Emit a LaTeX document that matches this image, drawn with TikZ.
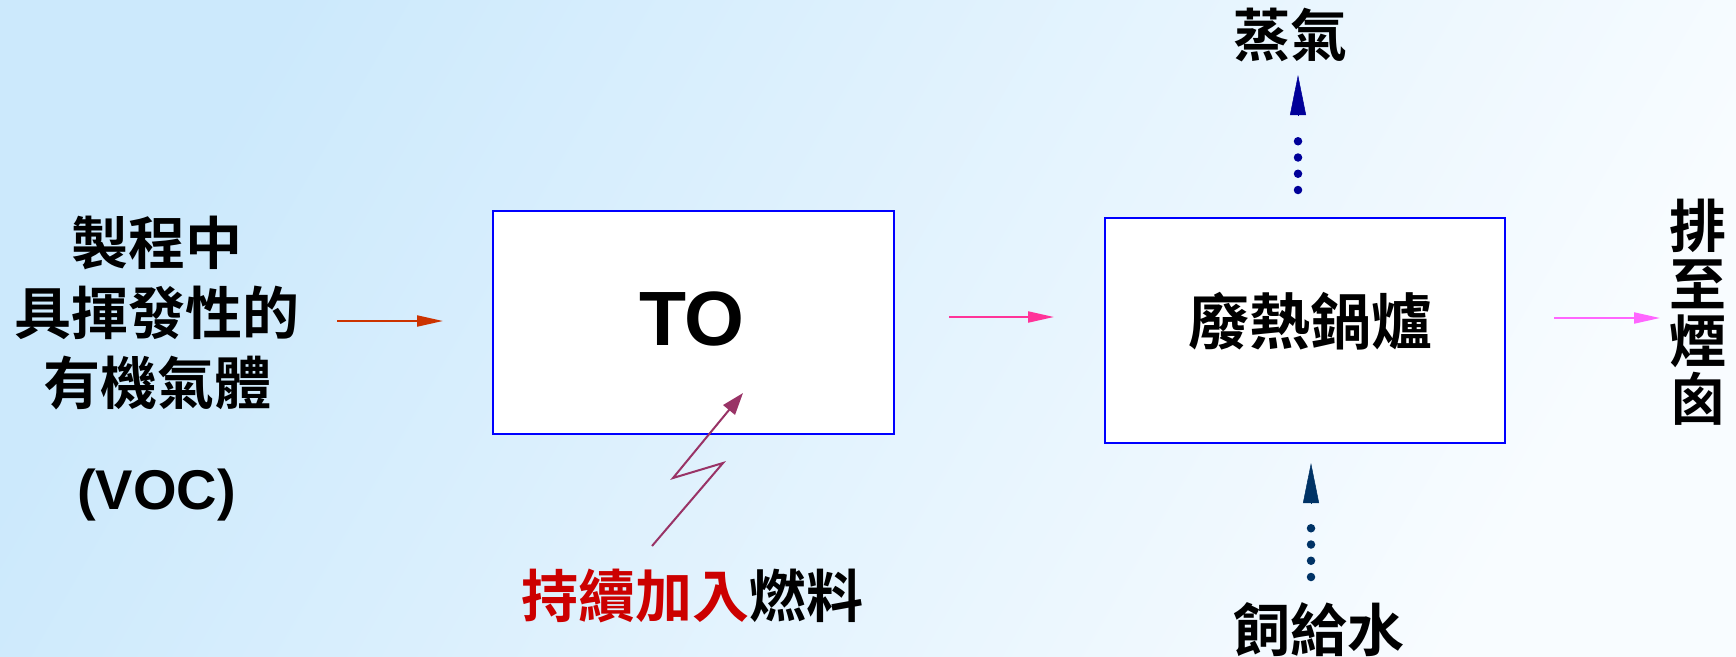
\documentclass[tikz,border=0pt]{standalone}
\usepackage{fontspec}
\setmainfont{Liberation Sans}
\newfontfamily\cjk{Noto Sans CJK TC Bold}
\usetikzlibrary{arrows.meta}
\definecolor{bgL}{HTML}{CCE9FC}
\definecolor{bgR}{HTML}{F8FCFF}
\definecolor{boxblue}{HTML}{0000FF}
\definecolor{arrRed}{HTML}{CC3300}
\definecolor{arrPink}{HTML}{FF3399}
\definecolor{arrMag}{HTML}{FF66FF}
\definecolor{fuelPurple}{HTML}{993366}
\definecolor{steamBlue}{HTML}{000099}
\definecolor{feedBlue}{HTML}{003366}
\definecolor{fuelRed}{HTML}{CC0000}
\tikzset{
  procbox/.style={draw=boxblue, line width=2pt, fill=white, inner sep=0pt},
  cjklabel/.style={inner sep=0pt, font=\cjk\fontsize{57}{70}\selectfont, align=center},
  flowarrow/.style={line width=2pt, -{Triangle[length=26pt,width=11pt]}},
  dotline/.style={line width=8.5pt, line cap=round, dash pattern=on 0pt off 16.25pt},
  dottip/.style={line width=0.5pt, -{Triangle[length=40pt,width=16pt]}},
}
\begin{document}
\begin{tikzpicture}[x=1pt,y=-1pt]
\shade[left color=bgL, right color=bgR, shading angle=60] (0,0) rectangle (1736,656);
\useasboundingbox (0,0) rectangle (1736,656);

% boxes
\node[procbox, minimum width=401pt, minimum height=223pt] (to) at (693.5,322.5) {};
\node[inner sep=0pt, font=\bfseries\fontsize{77}{80}\selectfont] (totext) at (692,319) {TO};
\node[procbox, minimum width=400pt, minimum height=225pt] (hrsg) at (1305,330.5) {};
\node[cjklabel, font=\cjk\fontsize{61}{70}\selectfont] (hrsgtext) at (1310,321) {廢熱鍋爐};

% labels
\node[cjklabel] (voc) at (157,313) {製程中\\具揮發性的\\有機氣體};
\node[inner sep=0pt, font=\bfseries\fontsize{56}{60}\selectfont] (voctag) at (156.5,495) {(VOC)};
\node[cjklabel] (steam) at (1290,35) {蒸氣};
\node[cjklabel] (feed) at (1319,630) {飼給水};
\node[cjklabel] (fuel) at (692.5,596) {\textcolor{fuelRed}{持續加入}燃料};
\node[cjklabel, font=\cjk\fontsize{57}{57.5}\selectfont] (stack) at (1698,312) {排\\至\\煙\\囪};

% horizontal flow arrows
\coordinate (r1) at (337,321); \coordinate (r2) at (443,321);
\draw[flowarrow, arrRed] (r1) -- (r2);
\coordinate (p1) at (949,317); \coordinate (p2) at (1054,317);
\draw[flowarrow, arrPink] (p1) -- (p2);
\coordinate (m1) at (1554,318); \coordinate (m2) at (1660,318);
\draw[flowarrow, arrMag] (m1) -- (m2);

% fuel zigzag
\coordinate (z0) at (652,546); \coordinate (z1) at (723,463);
\coordinate (z2) at (673,478); \coordinate (z3) at (743,393);
\draw[fuelPurple, line width=2pt, line join=miter, -{Triangle[length=22pt,width=15pt]}] (z0) -- (z1) -- (z2) -- (z3);

% steam dotted arrow
\coordinate (s0) at (1298,190); \coordinate (s1) at (1298,125);
\coordinate (s2) at (1298,116); \coordinate (s3) at (1298,75);
\draw[dotline, steamBlue] (s0) -- (s1);
\draw[dottip, steamBlue] (s2) -- (s3);

% feedwater dotted arrow
\coordinate (f0) at (1311,577); \coordinate (f1) at (1311,512);
\coordinate (f2) at (1311,503); \coordinate (f3) at (1311,463);
\draw[dotline, feedBlue] (f0) -- (f1);
\draw[dottip, feedBlue] (f2) -- (f3);
\end{tikzpicture}
\end{document}
